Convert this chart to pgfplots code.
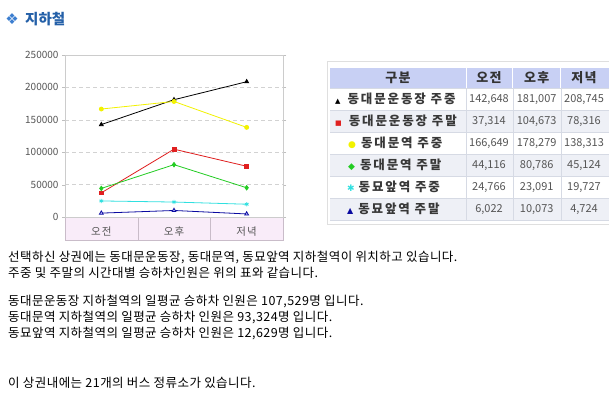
\documentclass[border=0pt]{standalone}
\usepackage{fontspec}
\setmainfont{Noto Sans CJK KR}
\newfontfamily\krbody[LetterSpace=3.6]{Noto Sans CJK KR}
\newfontfamily\krtab[LetterSpace=15]{Noto Sans CJK KR}
\newfontfamily\krhdr[LetterSpace=10]{Noto Sans CJK KR}
\newfontfamily\sym{DejaVu Sans}
\usepackage{pgfplots}
\pgfplotsset{compat=1.18}
\definecolor{titleblue}{HTML}{2460A8}
\definecolor{iconblue}{HTML}{3C7ED0}
\definecolor{bandpink}{HTML}{F9ECF9}
\definecolor{bandline}{HTML}{C9BCC9}
\definecolor{hdrfill}{HTML}{C8D0F4}
\definecolor{rowfill}{HTML}{EEF0F6}
\definecolor{tline}{HTML}{D6DAE4}
\definecolor{sred}{HTML}{E02020}
\definecolor{syellow}{HTML}{F2F200}
\definecolor{sgreen}{HTML}{22CC22}
\definecolor{scyan}{HTML}{30E0E0}
\definecolor{sblue}{HTML}{0A0AA0}
\definecolor{numgray}{HTML}{555555}
\begin{document}
\begin{tikzpicture}
\fill[white] (0,0) rectangle (609pt,-399pt);
\path[use as bounding box] (0,0) rectangle (609pt,-399pt);
% title
\node[anchor=center, text=iconblue, font=\sym\fontsize{15}{15}\selectfont, inner sep=0pt] at (12pt,-19pt) {❖};
\node[anchor=west, text=titleblue, font=\bfseries\fontsize{14.5}{15}\selectfont, inner sep=0pt] at (25pt,-19pt) {지하철};
% category band
\fill[bandpink] (65pt,-217pt) rectangle (283pt,-240pt);
\draw[bandline] (65pt,-217pt) rectangle (283pt,-240pt);
\draw[bandline] (137.7pt,-217pt) -- (137.7pt,-240pt);
\draw[bandline] (210.3pt,-217pt) -- (210.3pt,-240pt);
\begin{axis}[
  at={(65pt,-217pt)}, anchor=south west,
  scale only axis, width=218pt, height=162pt,
  xmin=-0.5, xmax=2.5, ymin=0, ymax=250000,
  xtick={0,1,2}, xticklabels={오전,오후,저녁},
  xticklabel style={anchor=center, yshift=-11.5pt, text=numgray, font=\krhdr\fontsize{10.5}{10.5}\selectfont},
  x tick style={draw=none},
  ytick={0,50000,100000,150000,200000,250000},
  yticklabels={0,50000,100000,150000,200000,250000},
  scaled y ticks=false,
  yticklabel style={text=numgray, font=\fontsize{10}{10}\selectfont},
  ymajorgrids, grid style={dash pattern=on 4pt off 3pt, gray!35},
  axis line style={gray!40},
  tick align=outside, major tick length=3pt, y tick style={gray!50},
  clip=false,
  every axis plot/.append style={line width=0.8pt, mark size=2.2pt},
]
\addplot[black, mark=triangle*] coordinates {(0,142648) (1,181007) (2,208745)};
\addplot[sred, mark=square*, mark size=1.9pt] coordinates {(0,37314) (1,104673) (2,78316)};
\addplot[syellow, mark=*, mark size=2pt] coordinates {(0,166649) (1,178279) (2,138313)};
\addplot[sgreen, mark=diamond*] coordinates {(0,44116) (1,80786) (2,45124)};
\addplot[scyan, mark=asterisk] coordinates {(0,24766) (1,23091) (2,19727)};
\addplot[sblue, mark=triangle*, mark options={fill=blue!25}] coordinates {(0,6022) (1,10073) (2,4724)};
\end{axis}
% table
\draw[gray!25] (327pt,-61pt) rectangle (612pt,-224pt);
\fill[hdrfill] (330pt,-67.7pt) rectangle (609pt,-88.3pt);
\fill[rowfill] (330pt,-110.3pt) rectangle (609pt,-132.3pt);
\fill[rowfill] (330pt,-154.3pt) rectangle (609pt,-176.3pt);
\fill[rowfill] (330pt,-198.3pt) rectangle (609pt,-220.3pt);
\foreach \y in {88.3,110.3,132.3,154.3,176.3,198.3,220.3} {\draw[tline] (330pt,-\y pt) -- (609pt,-\y pt);}
\foreach \x in {466,512.7,560.7} {\draw[white, line width=1pt] (\x pt,-67.7pt) -- (\x pt,-88.3pt); \draw[tline] (\x pt,-88.3pt) -- (\x pt,-220.3pt);}
\begin{scope}[every node/.style={font=\krhdr\bfseries\fontsize{13}{13}\selectfont, text=black!80, inner sep=0pt}]
\node at (398pt,-78pt) {구분};
\node at (489pt,-78pt) {오전};
\node at (536.7pt,-78pt) {오후};
\node at (584pt,-78pt) {저녁};
\end{scope}
\begin{scope}[every node/.style={font=\krtab\bfseries\fontsize{12.5}{12.5}\selectfont, text=black!78, inner sep=0pt, anchor=west}]
\node at (335pt,-99.3pt) {{\sym\fontsize{7}{7}\selectfont\textcolor{black}{▲}}\hspace{7pt}동대문운동장 주중};
\node at (335pt,-121.3pt) {{\sym\fontsize{7}{7}\selectfont\textcolor{sred}{■}}\hspace{7pt}동대문운동장 주말};
\node at (348pt,-143.3pt) {{\sym\fontsize{9}{9}\selectfont\textcolor{syellow}{●}}\hspace{5pt}동대문역 주중};
\node at (348pt,-165.3pt) {{\sym\fontsize{9}{9}\selectfont\textcolor{sgreen}{◆}}\hspace{5pt}동대문역 주말};
\node at (347pt,-187.3pt) {{\sym\fontsize{9}{9}\selectfont\textcolor{scyan}{✱}}\hspace{4pt}동묘앞역 주중};
\node at (347pt,-209.3pt) {{\sym\fontsize{8}{8}\selectfont\textcolor{sblue}{▲}}\hspace{5pt}동묘앞역 주말};
\end{scope}
\begin{scope}[every node/.style={font=\fontsize{11}{11}\selectfont, text=numgray, inner sep=0pt}]
\node at (489pt,-99.3pt) {142,648}; \node at (536.7pt,-99.3pt) {181,007}; \node at (584pt,-99.3pt) {208,745};
\node at (489pt,-121.3pt) {37,314}; \node at (536.7pt,-121.3pt) {104,673}; \node at (584pt,-121.3pt) {78,316};
\node at (489pt,-143.3pt) {166,649}; \node at (536.7pt,-143.3pt) {178,279}; \node at (584pt,-143.3pt) {138,313};
\node at (489pt,-165.3pt) {44,116}; \node at (536.7pt,-165.3pt) {80,786}; \node at (584pt,-165.3pt) {45,124};
\node at (489pt,-187.3pt) {24,766}; \node at (536.7pt,-187.3pt) {23,091}; \node at (584pt,-187.3pt) {19,727};
\node at (489pt,-209.3pt) {6,022}; \node at (536.7pt,-209.3pt) {10,073}; \node at (584pt,-209.3pt) {4,724};
\end{scope}
% body text
\begin{scope}[every node/.style={font=\krbody\fontsize{12.5}{13}\selectfont, text=black, inner sep=0pt, anchor=base west}]
\node at (8pt,-261.5pt) {선택하신 상권에는 동대문운동장, 동대문역, 동묘앞역 지하철역이 위치하고 있습니다.};
\node at (8pt,-277.5pt) {주중 및 주말의 시간대별 승하차인원은 위의 표와 같습니다.};
\node at (8pt,-305pt) {동대문운동장 지하철역의 일평균 승하차 인원은 107,529명 입니다.};
\node at (8pt,-321.5pt) {동대문역 지하철역의 일평균 승하차 인원은 93,324명 입니다.};
\node at (8pt,-337.5pt) {동묘앞역 지하철역의 일평균 승하차 인원은 12,629명 입니다.};
\node at (8pt,-387.5pt) {이 상권내에는 21개의 버스 정류소가 있습니다.};
\end{scope}
\end{tikzpicture}
\end{document}
